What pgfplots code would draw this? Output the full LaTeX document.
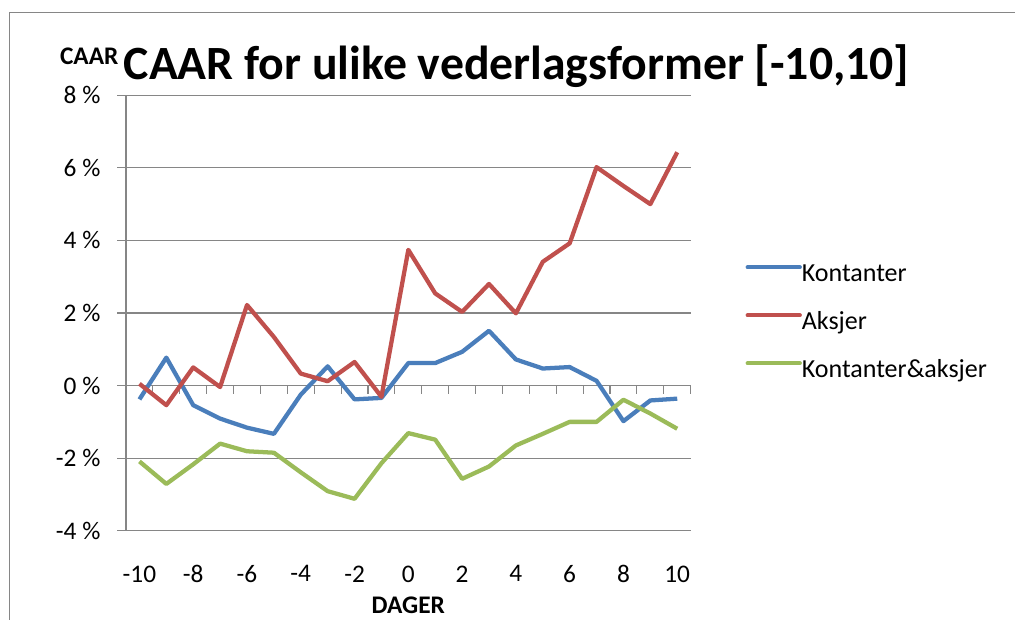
\documentclass[border=0pt]{standalone}
\usepackage{pgfplots}
\pgfplotsset{compat=1.18}
\usepackage{fontspec}
\setmainfont{Carlito}
\definecolor{cblue}{HTML}{4A7EBB}
\definecolor{cred}{HTML}{C0504D}
\definecolor{cgreen}{HTML}{9BBB59}
\definecolor{cgrid}{HTML}{868686}

\begin{document}
\begin{tikzpicture}[x=1pt,y=1pt]
\useasboundingbox (0,0) rectangle (761.25,464.25);
\draw[cgrid, line width=1pt] (7,-10) -- (7,454.7) -- (800,454.7);
\begin{axis}[
 at={(94.5pt,66.2pt)}, anchor=south west,
 scale only axis, width=423.5pt, height=326.6pt,
 xmin=-10.5, xmax=10.5, ymin=-4, ymax=8,
 axis y line*=left, axis x line*=bottom,
 x axis line style={draw=none},
 y axis line style={cgrid, line width=0.9pt, -},
 xtick={-10,-8,...,10},
 xticklabels={-10,-8,-6,-4,-2,0,2,4,6,8,10},
 xtick style={draw=none},
 ytick={-4,-2,...,8},
 yticklabels={-4 \%,-2 \%,0 \%,2 \%,4 \%,6 \%,8 \%},
 ytick style={cgrid, line width=0.9pt},
 tick align=outside,
 major tick length=6.5pt,
 ymajorgrids, grid style={cgrid, line width=0.9pt},
 tick label style={font=\fontsize{19}{22}\selectfont, inner sep=0pt},
 xticklabel style={anchor=north, yshift=-19.5pt},
 yticklabel style={anchor=east, xshift=-12.5pt},
 xlabel={DAGER},
 xlabel style={font=\bfseries\fontsize{19}{22}\selectfont, at={(axis description cs:0.5,0)}, anchor=north, inner sep=0pt, yshift=-49.5pt},
 legend style={at={(1,1)}, anchor=north west, xshift=41pt, yshift=-125.5pt, draw=none, fill=none, inner sep=0pt, row sep=18pt, font=\fontsize{19.5}{22}\selectfont, nodes={inner sep=0pt, text height=14pt, text depth=4pt}, /tikz/every even column/.append style={column sep=5pt}},
 legend image code/.code={\draw[#1, line cap=round] (1.5pt,5.7pt) -- (40.5pt,5.7pt);},
 legend cell align=left,
 clip=false,
 every axis plot/.append style={line width=3.2pt, line join=round, mark=none},
]
% category tick marks hanging below the zero line
\pgfplotsinvokeforeach{-10.5,-9.5,-8.5,-7.5,-6.5,-5.5,-4.5,-3.5,-2.5,-1.5,-0.5,0.5,1.5,2.5,3.5,4.5,5.5,6.5,7.5,8.5,9.5,10.5}{
 \draw[cgrid, line width=0.9pt] (axis cs:#1,0) -- ([yshift=-6.5pt]axis cs:#1,0);
}
\addplot[cblue] coordinates {(-10,-0.38) (-9,0.77) (-8,-0.54) (-7,-0.91) (-6,-1.16) (-5,-1.33) (-4,-0.25) (-3,0.53) (-2,-0.38) (-1,-0.34) (0,0.62) (1,0.62) (2,0.93) (3,1.51) (4,0.72) (5,0.47) (6,0.51) (7,0.13) (8,-0.98) (9,-0.41) (10,-0.36)};
\addlegendentry{Kontanter}
\addplot[cred] coordinates {(-10,0.05) (-9,-0.54) (-8,0.50) (-7,-0.04) (-6,2.22) (-5,1.34) (-4,0.33) (-3,0.12) (-2,0.65) (-1,-0.31) (0,3.74) (1,2.54) (2,2.03) (3,2.80) (4,1.99) (5,3.41) (6,3.92) (7,6.02) (8,5.50) (9,5.00) (10,6.43)};
\addlegendentry{Aksjer}
\addplot[cgreen] coordinates {(-10,-2.09) (-9,-2.71) (-8,-2.17) (-7,-1.60) (-6,-1.81) (-5,-1.85) (-4,-2.39) (-3,-2.91) (-2,-3.12) (-1,-2.14) (0,-1.31) (1,-1.49) (2,-2.57) (3,-2.23) (4,-1.65) (5,-1.33) (6,-1.00) (7,-1.00) (8,-0.39) (9,-0.77) (10,-1.19)};
\addlegendentry{Kontanter\&aksjer}
\node[anchor=base, font=\bfseries\fontsize{35.8}{40}\selectfont, inner sep=0pt, xshift=293pt, yshift=12pt] at (rel axis cs:0,1) {CAAR for ulike vederlagsformer [-10,10]};
\node[anchor=base east, font=\bfseries\fontsize{19}{22}\selectfont, inner sep=0pt, xshift=-5.5pt, yshift=22.7pt] at (rel axis cs:0,1) {CAAR};
\end{axis}
\end{tikzpicture}
\end{document}
